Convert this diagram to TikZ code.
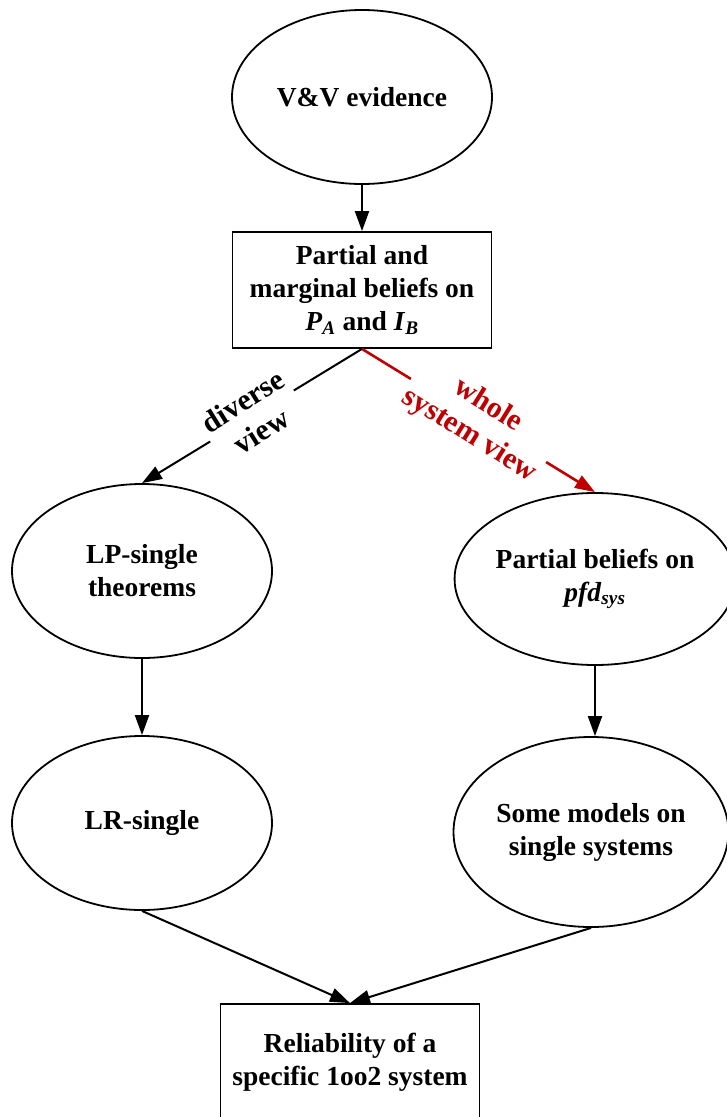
\documentclass[tikz,border=0pt]{standalone}
\usepackage{fontspec}
\setmainfont{Liberation Serif}
\usepackage{tikz}
\usetikzlibrary{arrows.meta,shapes.geometric,positioning}
\definecolor{viewred}{RGB}{192,0,0}

\begin{document}
\begin{tikzpicture}
	[x=1pt, y=-1pt, font=\bfseries\fontsize{27.5}{33}\selectfont, inner sep=0pt,
	belief/.style	= {ellipse, draw, line width=1.8pt, minimum width=260pt, minimum height=174pt, align=center},
	stage/.style	= {rectangle, draw, line width=1.8pt, minimum width=259pt, minimum height=116pt, align=center},
	paths/.style	= {-{Triangle[length=20pt, width=14pt]}, line width=2pt},
	view/.style		= {midway, fill=white, inner sep=3pt, align=center, font=\bfseries\fontsize{30}{35}\selectfont}]

	\useasboundingbox (0, 0) rectangle (727, 1117);
	\clip (0, 0) rectangle (727, 1117);

	\node at (362, 97)		[belief]	(vv)	{V\&V evidence};
	\node at (362, 290)		[stage]		(marg)	{Partial and\\marginal beliefs on\\\textit{P}\textsubscript{\textit{A}} and \textit{I}\textsubscript{\textit{B}}};

	\node at (142, 571)		[belief]	(lp)	{LP-single\\theorems};
	\node at (595, 579)		[belief, minimum height=172pt]	(pb)	{Partial beliefs on\\\textit{pfd}\textsubscript{\textit{sys}}};

	\node at (142, 823)		[belief]	(lr)	{LR-single};
	\node at (591, 832)		[belief, minimum width=275pt, minimum height=190pt]	(sm)	{Some models on\\single systems};

	\node at (350, 1062)	[stage]		(rel)	{Reliability of a\\specific 1oo2 system};

	\draw [paths] (vv.south) -- (marg.north);
	\draw [paths] (marg.south) -- (lp.north) node[view, rotate=32] {diverse\\view};
	\draw [paths, line width=2.6pt, draw=viewred, fill=viewred] (marg.south) -- (pb.north) node[view, rotate=-32, text=viewred] {whole\\system view};
	\draw [paths] (lp.south) -- (lr.north);
	\draw [paths] (pb.south) -- (pb.south |- sm.north);
	\draw [paths] (lr.south) -- (rel.north);
	\draw [paths] (sm.south) -- (rel.north);
\end{tikzpicture}
\end{document}
